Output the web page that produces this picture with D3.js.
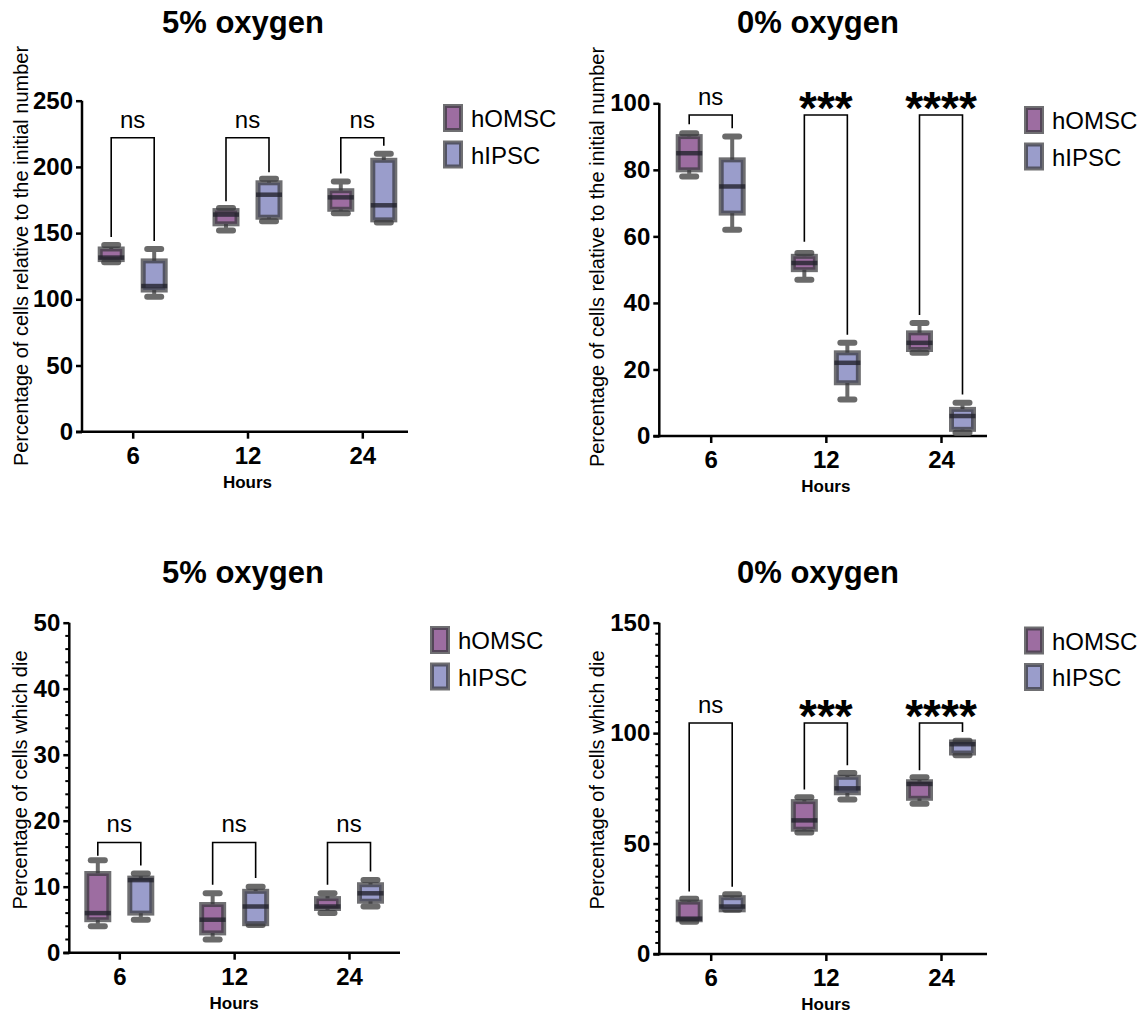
<!DOCTYPE html>
<html>
<head>
<meta charset="utf-8">
<script src="https://cdn.jsdelivr.net/npm/d3@7"></script>
<style>
  html, body { margin: 0; padding: 0; background: #fff; }
  svg { display: block; font-family: "Liberation Sans", Arial, Helvetica, sans-serif; }
</style>
</head>
<body>
<svg id="chart" width="1146" height="1015"></svg>
<script>
// ---------------- DATA ----------------
const hours = ["6", "12", "24"];
const groups = ["hOMSC", "hIPSC"];

// box stats per hour: [min, q1, median, q3, max]
const viable5_hOMSC = [[128, 130, 131.5, 138, 141], [152, 157, 164, 167, 169], [165, 168, 177, 182, 189]];
const viable5_hIPSC = [[102, 107, 110, 129, 138], [159, 162, 179, 188, 191], [158, 160, 171, 205, 210]];
const viable0_hOMSC = [[78, 80, 85, 90, 91], [47, 50, 52, 54, 55], [25, 26, 28, 31, 34]];
const viable0_hIPSC = [[62, 67, 75, 83, 90], [11, 16, 22, 25, 28], [1, 2, 6, 8, 10]];
const death5_hOMSC = [[4, 5, 6, 12, 14], [2, 3, 5, 7.3, 9], [6, 6.7, 7, 8.2, 9]];
const death5_hIPSC = [[5, 6, 11, 11.3, 12], [4.2, 4.4, 7, 9.3, 10], [7, 7.8, 9, 10.3, 11]];
const death0_hOMSC = [[14.6, 15.5, 16, 23.5, 25], [55, 56.5, 60.5, 69, 71], [68, 70.5, 77, 78, 80]];
const death0_hIPSC = [[20, 20, 21.5, 25.5, 27], [70, 73, 75, 80, 82], [90, 91, 95, 96, 96.5]];

// significance brackets: top value, [left leg end, right leg end] per hour, labels
const viable5_bracketTop = 222;
const viable5_legs = [[147, 144], [174, 196], [195, 216]];
const viable5_sig = ["ns", "ns", "ns"];
const viable0_bracketTop = 96.5;
const viable0_legs = [[93.7, 92.5], [58.4, 30.4], [36.4, 12.5]];
const viable0_sig = ["ns", "***", "****"];
const death5_bracketTop = 16.7;
const death5_legs = [[14.7, 13.2], [10.3, 11.3], [10.3, 12.3]];
const death5_sig = ["ns", "ns", "ns"];
const death0_bracketTop = 104.6;
const death0_legs = [[28.3, 30.5], [74.5, 85.5], [83.2, 100.5]];
const death0_sig = ["ns", "***", "****"];

// axis ticks
const viable5_ticks = [0, 50, 100, 150, 200, 250];
const viable0_ticks = [0, 20, 40, 60, 80, 100];
const death5_ticks = [0, 10, 20, 30, 40, 50];
const death0_ticks = [0, 50, 100, 150];

const titles = ["5% oxygen", "0% oxygen", "5% oxygen", "0% oxygen"];
const yLabelViable = "Percentage of cells relative to the initial number";
const yLabelDeath = "Percentage of cells which die";
const xLabel = "Hours";

// ---------------- STYLE ----------------
const fills = { hOMSC: "#9d6da1", hIPSC: "#9a9dcb" };
const svg = d3.select("#chart");

function drawPanel(cfg) {
  const g = svg.append("g");
  const y = d3.scaleLinear().domain([0, cfg.yMax]).range([cfg.y0, cfg.yTop]);
  const x = d3.scalePoint().domain(hours).range([cfg.xFirst, cfg.xLast]);
  const sub = d3.scaleBand().domain(groups).range([-43, 43]);
  const boxW = 22;

  // title
  g.append("text").attr("x", cfg.titleX).attr("y", cfg.titleY)
    .attr("text-anchor", "middle").attr("font-size", 31).attr("font-weight", "bold")
    .text(cfg.title);

  // y label
  g.append("text")
    .attr("transform", `translate(${cfg.labelX},${cfg.labelY}) rotate(-90)`)
    .attr("text-anchor", "middle").attr("font-size", 20)
    .text(cfg.yLabel);

  // minor ticks
  if (cfg.minorStep) {
    const minors = d3.range(0, cfg.yMax + 0.001, cfg.minorStep).filter(v => !cfg.ticks.includes(v));
    g.append("g").selectAll("line").data(minors).join("line")
      .attr("x1", cfg.axisX - 4).attr("x2", cfg.axisX)
      .attr("y1", d => y(d)).attr("y2", d => y(d))
      .attr("stroke", "#000").attr("stroke-width", 2);
  }

  // y axis
  const ya = g.append("g").attr("transform", `translate(${cfg.axisX},0)`)
    .call(d3.axisLeft(y).tickValues(cfg.ticks).tickSize(6).tickPadding(3).tickSizeOuter(0));
  ya.select(".domain").attr("stroke-width", 2.5).attr("d", `M0,${cfg.y0 + 1.2}V${cfg.yTop}`);
  ya.selectAll(".tick line").attr("stroke-width", 2.5);
  ya.selectAll(".tick text").attr("font-size", 24).attr("font-weight", "bold")
    .attr("font-family", "'Liberation Sans', Arial, sans-serif").attr("fill", "#000");

  // x axis
  const xa = g.append("g").attr("transform", `translate(0,${cfg.y0})`)
    .call(d3.axisBottom(x).tickSize(7).tickPadding(8).tickSizeOuter(0));
  xa.select(".domain").attr("stroke-width", 2.5).attr("d", `M${cfg.axisX - 6},0H${cfg.xEnd}`);
  xa.selectAll(".tick line").attr("stroke-width", 2.5);
  xa.selectAll(".tick text").attr("font-size", 24).attr("font-weight", "bold")
    .attr("font-family", "'Liberation Sans', Arial, sans-serif").attr("fill", "#000");

  // x label
  g.append("text").attr("x", x(hours[1])).attr("y", cfg.y0 + 56)
    .attr("text-anchor", "middle").attr("font-size", 17).attr("font-weight", "bold")
    .text(xLabel);

  // boxes
  groups.forEach((grp, gi) => {
    const data = cfg.data[gi];
    const bg = g.append("g").selectAll("g").data(data).join("g")
      .attr("transform", (d, i) => `translate(${x(hours[i]) + sub(grp) + sub.bandwidth() / 2},0)`);
    // whiskers
    bg.append("line").attr("x1", 0).attr("x2", 0)
      .attr("y1", d => y(d[4])).attr("y2", d => y(d[3]))
      .attr("stroke", "#6a6a6a").attr("stroke-width", 4);
    bg.append("line").attr("x1", 0).attr("x2", 0)
      .attr("y1", d => y(d[1])).attr("y2", d => y(d[0]))
      .attr("stroke", "#6a6a6a").attr("stroke-width", 4);
    // caps
    [0, 4].forEach(k => {
      bg.append("line").attr("x1", -7).attr("x2", 7)
        .attr("y1", d => y(d[k])).attr("y2", d => y(d[k]))
        .attr("stroke", "#6a6a6a").attr("stroke-width", 6).attr("stroke-linecap", "round");
    });
    // box
    bg.append("rect").attr("x", -boxW / 2).attr("width", boxW)
      .attr("y", d => y(d[3])).attr("height", d => Math.max(0.5, y(d[1]) - y(d[3])))
      .attr("fill", fills[grp]).attr("stroke", "rgba(55,55,60,0.72)").attr("stroke-width", 5);
    // median
    bg.append("line").attr("x1", -boxW / 2 - 2).attr("x2", boxW / 2 + 2)
      .attr("y1", d => y(d[2])).attr("y2", d => y(d[2]))
      .attr("stroke", "rgba(35,35,45,0.8)").attr("stroke-width", 4.5);
  });

  // brackets
  hours.forEach((h, i) => {
    const xl = x(h) + sub("hOMSC") + sub.bandwidth() / 2;
    const xr = x(h) + sub("hIPSC") + sub.bandwidth() / 2;
    const yt = y(cfg.bracketTop);
    g.append("path")
      .attr("d", `M${xl},${y(cfg.legs[i][0])}V${yt}H${xr}V${y(cfg.legs[i][1])}`)
      .attr("fill", "none").attr("stroke", "#000").attr("stroke-width", 1.6);
    const lab = cfg.sig[i];
    if (lab === "ns") {
      g.append("text").attr("x", (xl + xr) / 2).attr("y", yt - 10)
        .attr("text-anchor", "middle").attr("font-size", 24).text(lab);
    } else {
      g.append("text").attr("x", (xl + xr) / 2).attr("y", yt + 9)
        .attr("text-anchor", "middle").attr("font-size", 46).attr("font-weight", "bold").text(lab);
    }
  });

  // legend
  groups.forEach((grp, gi) => {
    const ly = cfg.legendY + gi * 36.5;
    g.append("rect").attr("x", cfg.legendX + 2).attr("y", ly + 2).attr("width", 16).attr("height", 24)
      .attr("fill", fills[grp]).attr("stroke", "rgba(55,55,60,0.72)").attr("stroke-width", 4);
    g.append("text").attr("x", cfg.legendX + 28).attr("y", ly + 23)
      .attr("font-size", 24).text(grp);
  });
}

drawPanel({ axisX: 82, y0: 431.7, yTop: 100.7, yMax: 250, xFirst: 132.7, xLast: 362.3, xEnd: 408,
  title: titles[0], titleX: 243, titleY: 33, yLabel: yLabelViable, labelX: 28, labelY: 256,
  legendX: 443, legendY: 104, ticks: viable5_ticks, minorStep: null,
  data: [viable5_hOMSC, viable5_hIPSC], bracketTop: viable5_bracketTop, legs: viable5_legs, sig: viable5_sig });

drawPanel({ axisX: 659.3, y0: 436, yTop: 103.3, yMax: 100, xFirst: 710.7, xLast: 941, xEnd: 987,
  title: titles[1], titleX: 818, titleY: 33, yLabel: yLabelViable, labelX: 604, labelY: 257,
  legendX: 1024, legendY: 106, ticks: viable0_ticks, minorStep: null,
  data: [viable0_hOMSC, viable0_hIPSC], bracketTop: viable0_bracketTop, legs: viable0_legs, sig: viable0_sig });

drawPanel({ axisX: 69.3, y0: 952.7, yTop: 622.7, yMax: 50, xFirst: 119.3, xLast: 349, xEnd: 400,
  title: titles[2], titleX: 243, titleY: 583, yLabel: yLabelDeath, labelX: 27, labelY: 780,
  legendX: 430, legendY: 626, ticks: death5_ticks, minorStep: 2,
  data: [death5_hOMSC, death5_hIPSC], bracketTop: death5_bracketTop, legs: death5_legs, sig: death5_sig });

drawPanel({ axisX: 659.3, y0: 954, yTop: 622.7, yMax: 150, xFirst: 710.7, xLast: 941, xEnd: 987,
  title: titles[3], titleX: 818, titleY: 583, yLabel: yLabelDeath, labelX: 604, labelY: 780,
  legendX: 1024, legendY: 626.5, ticks: death0_ticks, minorStep: 5,
  data: [death0_hOMSC, death0_hIPSC], bracketTop: death0_bracketTop, legs: death0_legs, sig: death0_sig });
</script>
</body>
</html>
